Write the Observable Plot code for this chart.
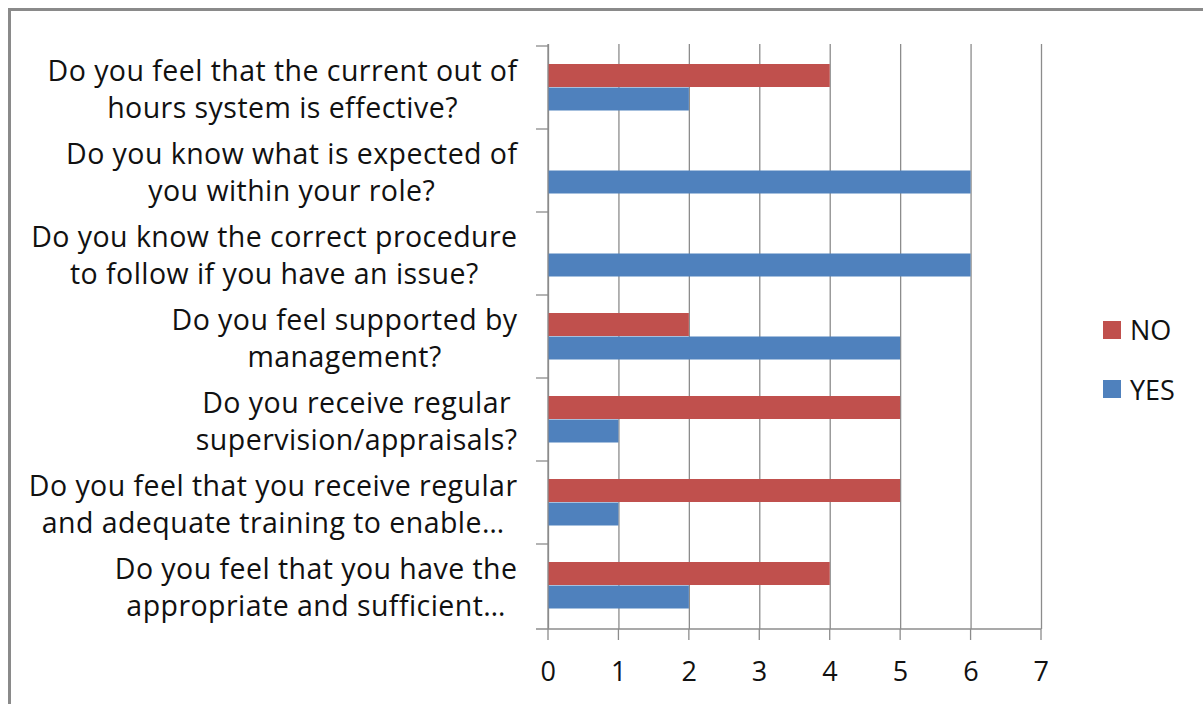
<!DOCTYPE html>
<html>
<head>
<meta charset="utf-8">
<script src="https://cdn.jsdelivr.net/npm/d3@7"></script>
<script src="https://cdn.jsdelivr.net/npm/@observablehq/plot@0.6"></script>
<style>
  html, body { margin: 0; padding: 0; background: #fff; }
  #wrap { position: relative; width: 1203px; height: 704px; overflow: hidden; background: #fff; }
  #frame { position: absolute; left: 8px; top: 8px; right: -10px; bottom: -10px;
           border-left: 3px solid #8a8a8a; border-top: 3px solid #8a8a8a; pointer-events: none; }
  #chart { position: absolute; left: 0; top: 0; }
  #legend { position: absolute; left: 1103px; top: 311px; font-family: "Open Sans", sans-serif;
            font-size: 27px; color: #111; line-height: 37px; }
  .item { position: absolute; left: 0; display: flex; align-items: center; white-space: nowrap; height: 37px; }
  .sw { width: 18px; height: 18px; margin-right: 9px; }
</style>
</head>
<body>
<div id="wrap">
  <div id="chart"></div>
  <div id="frame"></div>
  <div id="legend"></div>
</div>
<script>
const categories = [
  "Do you feel that the current out of\nhours system is effective?",
  "Do you know what is expected of\nyou within your role?",
  "Do you know the correct procedure\nto follow if you have an issue?",
  "Do you feel supported by\nmanagement?",
  "Do you receive regular\nsupervision/appraisals?",
  "Do you feel that you receive regular\nand adequate training to enable…",
  "Do you feel that you have the\nappropriate and sufficient…"
];
const noValues  = [4, 0, 0, 2, 5, 5, 4];
const yesValues = [2, 6, 6, 5, 1, 1, 2];
const seriesNames = ["NO", "YES"];
const seriesColors = ["#C0504D", "#4F81BD"];
const xTicks = [0, 1, 2, 3, 4, 5, 6, 7];

const FONT = "Open Sans";
const FS = 27;        // tick labels
const LABEL_FS = 28.5; // category labels
const LS = 0.45;      // letter spacing (px)
const lineColor = "#8c8c8c";

const data = categories.flatMap((c, i) => [
  {category: c, answer: "NO", value: noValues[i]},
  {category: c, answer: "YES", value: yesValues[i]}
]);

// measure label block widths so lines are centered within a right-aligned block
const ctx = document.createElement("canvas").getContext("2d");
ctx.font = `${LABEL_FS}px "${FONT}"`;
const blockWidth = c => d3.max(c.split("\n"), s => ctx.measureText(s).width + s.length * LS);

const axisLines = (index, scales, values, dimensions) => {
  const g = d3.create("svg:g").attr("stroke", lineColor).attr("stroke-width", 1.3).attr("fill", "none");
  const x0 = scales.x(0);
  const xEnd = scales.x(xTicks[xTicks.length - 1]);
  const top = dimensions.marginTop;
  const bottom = dimensions.height - dimensions.marginBottom;
  g.append("line").attr("x1", x0).attr("x2", x0).attr("y1", top).attr("y2", bottom);
  categories.forEach(c => {
    const yy = scales.y(c);
    g.append("line").attr("x1", x0 - 12).attr("x2", x0).attr("y1", yy).attr("y2", yy);
  });
  g.append("line").attr("x1", x0 - 12).attr("x2", xEnd).attr("y1", bottom).attr("y2", bottom);
  xTicks.forEach(t => {
    const xx = scales.x(t);
    g.append("line").attr("x1", xx).attr("x2", xx).attr("y1", bottom).attr("y2", bottom + 11);
  });
  return g.node();
};

const labelMarks = categories.map(c => Plot.text([c], {
  y: d => d,
  text: d => d,
  frameAnchor: "left",
  textAnchor: "middle",
  dx: -(31 + blockWidth(c) / 2),
  lineHeight: 1.284,
  fontSize: LABEL_FS,
  fill: "#111"
}));

const chart = Plot.plot({
  width: 1203,
  height: 704,
  marginLeft: 548,
  marginRight: 162,
  marginTop: 44,
  marginBottom: 75,
  style: {fontFamily: `"${FONT}", sans-serif`, fontSize: `${FS}px`, color: "#111", background: "transparent", letterSpacing: `${LS}px`},
  x: {domain: [0, 7], ticks: xTicks, tickSize: 0, tickPadding: 32, label: null, tickFormat: d => String(d)},
  y: {domain: categories, padding: 0, axis: null},
  color: {domain: seriesNames, range: seriesColors},
  marks: [
    Plot.gridX(xTicks, {stroke: lineColor, strokeOpacity: 1, strokeWidth: 1.3}),
    Plot.barX(data.filter(d => d.answer === "NO"), {x: "value", y: "category", fill: "answer", insetTop: 18, insetBottom: 42}),
    Plot.barX(data.filter(d => d.answer === "YES"), {x: "value", y: "category", fill: "answer", insetTop: 41.5, insetBottom: 18.5}),
    axisLines,
    ...labelMarks
  ]
});
document.getElementById("chart").append(chart);

const legend = document.getElementById("legend");
seriesNames.forEach((s, i) => {
  const item = document.createElement("div");
  item.className = "item";
  item.style.top = (i * 59.5) + "px";
  const sw = document.createElement("div");
  sw.className = "sw";
  sw.style.background = seriesColors[i];
  const t = document.createElement("span");
  t.textContent = s;
  item.append(sw, t);
  legend.append(item);
});
</script>
</body>
</html>
